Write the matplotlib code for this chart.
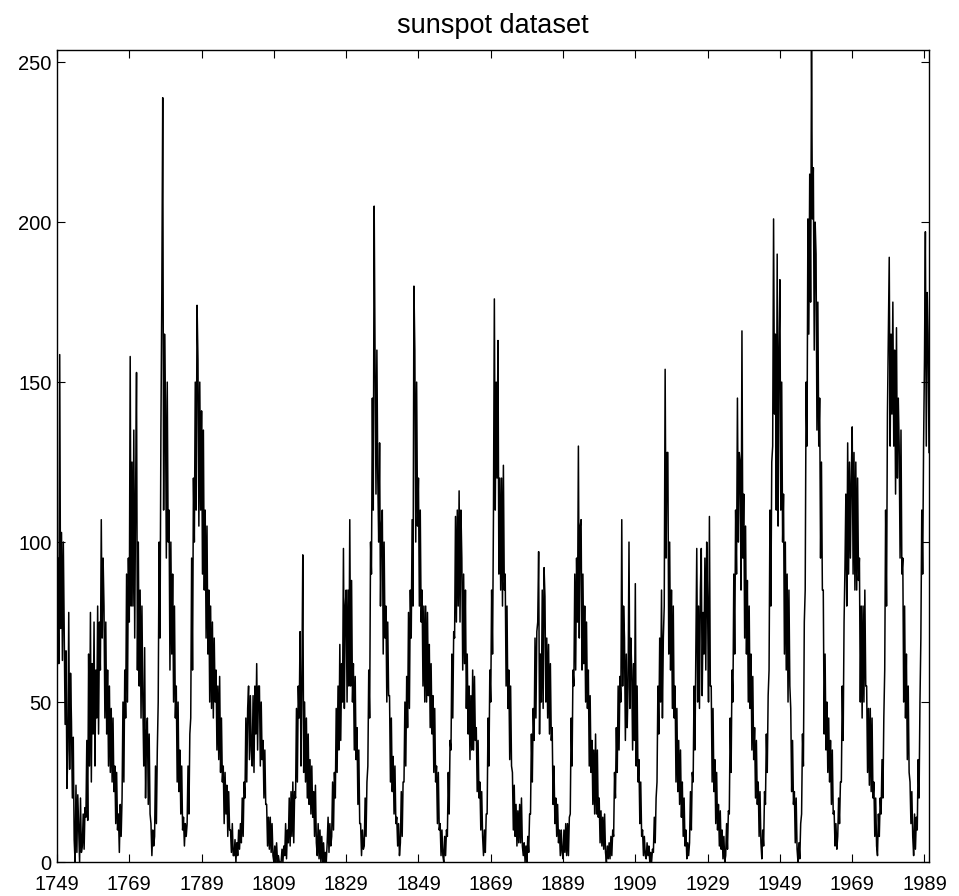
import matplotlib
matplotlib.use('Agg')
import numpy as np
import matplotlib.pyplot as plt

# sunspot numbers, four readings per year
sunspots_1749_1799 = [
    58, 95, 62, 158.6,    # 1749
    73, 103, 63, 100,     # 1750
    70, 43, 66, 23,       # 1751
    35, 78, 29, 59,       # 1752
    44, 20, 39, 7,        # 1753
    0, 24, 3, 21,         # 1754
    10, 0, 20, 3,         # 1755
    5, 15, 4, 17,         # 1756
    14, 38, 13, 65,       # 1757
    30, 78, 25, 62,       # 1758
    40, 75, 30, 60,       # 1759
    45, 80, 40, 75,       # 1760
    60, 107, 70, 95,      # 1761
    80, 45, 75, 40,       # 1762
    60, 30, 55, 28,       # 1763
    48, 25, 45, 22,       # 1764
    30, 12, 28, 10,       # 1765
    15, 3, 18, 8,         # 1766
    20, 50, 25, 60,       # 1767
    45, 90, 50, 95,       # 1768
    75, 158, 80, 125,     # 1769
    80, 135, 70, 115,     # 1770
    153, 60, 100, 55,     # 1771
    85, 45, 80, 50,       # 1772
    30, 67, 20, 40,       # 1773
    45, 18, 40, 15,       # 1774
    12, 2, 10, 5,         # 1775
    8, 30, 12, 35,        # 1776
    50, 100, 70, 135,     # 1777
    178, 238.9, 110, 165,  # 1778
    144, 95, 150, 100,    # 1779
    110, 60, 100, 65,     # 1780
    90, 50, 80, 45,       # 1781
    55, 25, 50, 22,       # 1782
    35, 15, 30, 10,       # 1783
    14, 5, 12, 8,         # 1784
    12, 30, 15, 40,       # 1785
    45, 95, 60, 120,      # 1786
    100, 150, 110, 174,   # 1787
    157, 105, 150, 110,   # 1788
    141, 90, 135, 85,     # 1789
    110, 70, 105, 65,     # 1790
    85, 50, 80, 48,       # 1791
    75, 45, 70, 50,       # 1792
    60, 35, 55, 32,       # 1793
    58, 28, 45, 25,       # 1794
    30, 12, 28, 15,       # 1795
    24, 8, 22, 10,        # 1796
    10, 3, 12, 2,         # 1797
    2, 7, 0, 6,           # 1798
    2, 10, 4, 12,         # 1799
]

sunspots_1800_1849 = [
    6, 20, 8, 25,         # 1800
    20, 45, 25, 48,       # 1801
    55, 32, 52, 35,       # 1802
    30, 52, 28, 55,       # 1803
    40, 62, 35, 55,       # 1804
    55, 30, 50, 32,       # 1805
    38, 20, 35, 18,       # 1806
    18, 5, 14, 4,         # 1807
    14, 3, 12, 2,         # 1808
    0, 5, 0, 6,           # 1809
    0, 2, 0, 0,           # 1810
    0, 4, 0, 5,           # 1811
    2, 12, 1, 10,         # 1812
    6, 20, 5, 22,         # 1813
    8, 25, 6, 22,         # 1814
    20, 48, 25, 55,       # 1815
    45, 72, 30, 56,       # 1816
    96, 28, 50, 25,       # 1817
    45, 20, 40, 18,       # 1818
    32, 15, 30, 14,       # 1819
    22, 8, 24, 6,         # 1820
    2, 12, 1, 10,         # 1821
    0, 8, 0, 6,           # 1822
    0, 3, 0, 6,           # 1823
    14, 3, 12, 5,         # 1824
    8, 25, 10, 28,        # 1825
    20, 48, 28, 55,       # 1826
    35, 68, 38, 62,       # 1827
    50, 98, 48, 80,       # 1828
    85, 50, 85, 55,       # 1829
    107, 55, 88, 50,      # 1830
    62, 35, 58, 32,       # 1831
    42, 18, 35, 12,       # 1832
    12, 2, 10, 4,         # 1833
    5, 20, 8, 25,         # 1834
    30, 60, 45, 100,      # 1835
    90, 145, 110, 205,    # 1836
    157, 115, 160, 120,   # 1837
    100, 131, 80, 105,    # 1838
    110, 65, 100, 70,     # 1839
    80, 50, 75, 52,       # 1840
    52, 25, 45, 22,       # 1841
    33, 15, 30, 12,       # 1842
    14, 5, 12, 2,         # 1843
    6, 22, 8, 25,         # 1844
    25, 50, 30, 58,       # 1845
    42, 78, 48, 85,       # 1846
    70, 107, 80, 180,     # 1847
    160, 100, 150, 105,   # 1848
    120, 80, 110, 75,     # 1849
]

sunspots_1850_1899 = [
    85, 55, 80, 50,       # 1850
    80, 50, 78, 52,       # 1851
    68, 42, 62, 40,       # 1852
    52, 28, 48, 25,       # 1853
    30, 12, 28, 10,       # 1854
    12, 2, 10, 2,         # 1855
    0, 8, 2, 10,          # 1856
    8, 28, 15, 38,        # 1857
    35, 65, 45, 72,       # 1858
    70, 108, 75, 110,     # 1859
    80, 116, 75, 110,     # 1860
    95, 60, 90, 62,       # 1861
    85, 48, 65, 40,       # 1862
    55, 32, 52, 35,       # 1863
    60, 35, 58, 38,       # 1864
    42, 22, 38, 20,       # 1865
    25, 10, 22, 8,        # 1866
    2, 10, 3, 15,         # 1867
    15, 45, 30, 60,       # 1868
    50, 85, 65, 108,      # 1869
    176, 110, 150, 120,   # 1870
    163, 90, 120, 85,     # 1871
    120, 80, 124, 85,     # 1872
    90, 55, 80, 48,       # 1873
    60, 32, 55, 30,       # 1874
    28, 10, 24, 8,        # 1875
    18, 5, 16, 6,         # 1876
    18, 6, 20, 5,         # 1877
    2, 6, 0, 5,           # 1878
    0, 8, 3, 15,          # 1879
    15, 40, 25, 48,       # 1880
    38, 70, 45, 72,       # 1881
    75, 97, 40, 65,       # 1882
    50, 85, 48, 92,       # 1883
    83, 50, 70, 45,       # 1884
    68, 40, 62, 38,       # 1885
    42, 18, 30, 12,       # 1886
    20, 8, 18, 6,         # 1887
    10, 2, 10, 3,         # 1888
    1, 10, 3, 12,         # 1889
    2, 12, 2, 14,         # 1890
    15, 45, 30, 60,       # 1891
    55, 90, 60, 95,       # 1892
    75, 130, 70, 105,     # 1893
    107, 60, 90, 62,      # 1894
    80, 50, 75, 48,       # 1895
    60, 30, 52, 28,       # 1896
    38, 18, 35, 15,       # 1897
    40, 15, 35, 14,       # 1898
    20, 6, 16, 5,         # 1899
]

sunspots_1900_1949 = [
    14, 4, 15, 3,         # 1900
    0, 5, 1, 6,           # 1901
    1, 8, 2, 10,          # 1902
    8, 28, 20, 42,        # 1903
    28, 55, 35, 58,       # 1904
    50, 107, 55, 80,      # 1905
    70, 38, 65, 42,       # 1906
    55, 100, 48, 70,      # 1907
    60, 35, 62, 38,       # 1908
    87, 30, 55, 25,       # 1909
    32, 12, 25, 8,        # 1910
    10, 2, 8, 2,          # 1911
    1, 6, 2, 5,           # 1912
    0, 3, 0, 4,           # 1913
    3, 14, 6, 20,         # 1914
    25, 55, 40, 70,       # 1915
    50, 85, 45, 70,       # 1916
    80, 154, 95, 128,     # 1917
    128, 65, 100, 60,     # 1918
    85, 48, 80, 45,       # 1919
    55, 25, 48, 22,       # 1920
    38, 18, 35, 14,       # 1921
    25, 8, 20, 5,         # 1922
    10, 1, 6, 2,          # 1923
    6, 22, 10, 28,        # 1924
    25, 55, 35, 65,       # 1925
    98, 50, 80, 48,       # 1926
    85, 98, 52, 78,       # 1927
    65, 95, 60, 100,      # 1928
    80, 50, 108, 55,      # 1929
    55, 25, 48, 22,       # 1930
    32, 12, 28, 10,       # 1931
    18, 5, 16, 4,         # 1932
    10, 1, 8, 0,          # 1933
    2, 12, 4, 16,         # 1934
    15, 45, 28, 60,       # 1935
    50, 90, 65, 110,      # 1936
    90, 145, 100, 128,    # 1937
    125, 85, 166, 95,     # 1938
    115, 70, 105, 65,     # 1939
    88, 50, 80, 48,       # 1940
    65, 35, 58, 32,       # 1941
    42, 20, 38, 18,       # 1942
    25, 8, 22, 6,         # 1943
    1, 10, 5, 22,         # 1944
    18, 40, 28, 52,       # 1945
    60, 110, 80, 125,     # 1946
    130, 201, 140, 165,   # 1947
    110, 190, 105, 160,   # 1948
    182, 110, 150, 100,   # 1949
]

sunspots_1950_1990 = [
    115, 65, 100, 60,     # 1950
    90, 50, 85, 55,       # 1951
    48, 22, 38, 18,       # 1952
    22, 6, 20, 4,         # 1953
    0, 6, 1, 12,          # 1954
    15, 40, 30, 75,       # 1955
    85, 150, 130, 201,    # 1956
    165, 215, 175, 253.8,  # 1957
    201, 217, 160, 200,   # 1958
    190, 135, 175, 130,   # 1959
    145, 95, 125, 85,     # 1960
    85, 40, 65, 35,       # 1961
    50, 28, 45, 25,       # 1962
    38, 18, 35, 15,       # 1963
    16, 5, 12, 4,         # 1964
    8, 20, 12, 25,        # 1965
    25, 55, 38, 75,       # 1966
    92, 115, 80, 131,     # 1967
    90, 125, 95, 120,     # 1968
    136, 90, 128, 85,     # 1969
    125, 85, 120, 88,     # 1970
    95, 50, 80, 45,       # 1971
    80, 50, 85, 55,       # 1972
    55, 28, 48, 24,       # 1973
    48, 22, 45, 20,       # 1974
    25, 8, 20, 5,         # 1975
    2, 15, 8, 20,         # 1976
    15, 32, 20, 45,       # 1977
    60, 110, 80, 140,     # 1978
    166, 189, 130, 165,   # 1979
    140, 175, 130, 160,   # 1980
    115, 167, 120, 145,   # 1981
    130, 95, 135, 90,     # 1982
    95, 50, 80, 45,       # 1983
    65, 32, 55, 28,       # 1984
    25, 12, 22, 8,        # 1985
    2, 15, 4, 14,         # 1986
    10, 32, 20, 50,       # 1987
    70, 110, 90, 130,     # 1988
    157, 197, 130, 178,   # 1989
    165, 128,             # 1990
]

x_ticks = [1749, 1769, 1789, 1809, 1829, 1849, 1869, 1889, 1909, 1929, 1949, 1969, 1989]
y_ticks = [0, 50, 100, 150, 200, 250]

sunspots = np.array(sunspots_1749_1799 + sunspots_1800_1849 + sunspots_1850_1899
                    + sunspots_1900_1949 + sunspots_1950_1990, dtype=float)
years = 1749 + np.arange(len(sunspots)) / 4.0

plt.rcParams['font.family'] = ['Liberation Sans', 'DejaVu Sans']

fig = plt.figure(figsize=(9.59, 8.96), dpi=100)
ax = fig.add_axes([57 / 959, 1 - 862 / 896, (929 - 57) / 959, (862 - 50) / 896])

ax.plot(years, sunspots, color='black', linewidth=1.1)

ax.set_xlim(years[0], years[-1])
ax.set_ylim(0, sunspots.max())
ax.set_xticks(x_ticks)
ax.set_yticks(y_ticks)
ax.tick_params(direction='in', length=6, width=0.8, top=True, right=True,
               labelsize=14.5)
ax.tick_params(axis='x', pad=9)
ax.tick_params(axis='y', pad=4)
for s in ax.spines.values():
    s.set_linewidth(1.0)

ax.set_title('sunspot dataset', fontsize=19.5, pad=12)

fig.savefig('out.png', dpi=100)
